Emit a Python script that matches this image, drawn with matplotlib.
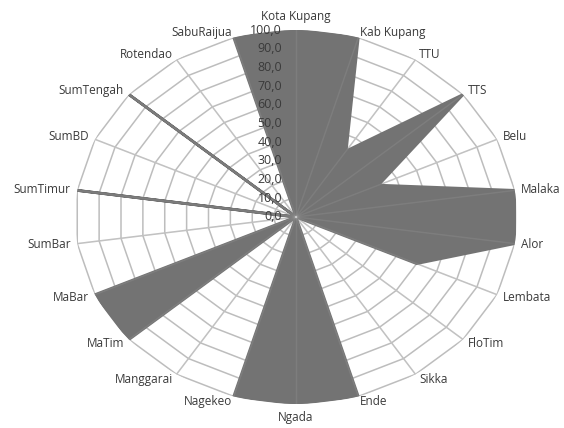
import numpy as np
import matplotlib
matplotlib.use('Agg')
import matplotlib.pyplot as plt

# regions, clockwise from the top
kabupaten = ['Kota Kupang', 'Kab Kupang', 'TTU', 'TTS', 'Belu', 'Malaka', 'Alor',
             'Lembata', 'FloTim', 'Sikka', 'Ende', 'Ngada', 'Nagekeo', 'Manggarai',
             'MaTim', 'MaBar', 'SumBar', 'SumTimur', 'SumBD', 'SumTengah',
             'Rotendao', 'SabuRaijua']
nilai = [100, 100, 42, 100, 41, 100, 100,
         60, 0, 0, 100, 100, 100, 0,
         100, 100, 0, 100, 0, 100,
         0, 100]
ring_levels = [0, 10, 20, 30, 40, 50, 60, 70, 80, 90, 100]
ring_labels = ['%.1f' % v for v in ring_levels]
ring_labels = [s.replace('.', ',') for s in ring_labels]

plt.rcParams['font.family'] = ['Open Sans', 'DejaVu Sans']

n = len(kabupaten)
ang = np.linspace(0, 2 * np.pi, n, endpoint=False)
ang_c = np.append(ang, ang[0])
val_c = np.append(nilai, nilai[0])

fig = plt.figure(figsize=(5.64, 4.28), dpi=100)
ax = fig.add_axes([75 / 564, 24 / 428, 442 / 564, 374 / 428], projection='polar')
ax.set_theta_zero_location('N')
ax.set_theta_direction(-1)
ax.set_ylim(0, 100)
ax.set_aspect('auto')
ax.grid(False)
ax.set_xticks([])
ax.set_yticks([])
ax.spines['polar'].set_visible(False)

grid_col = '#bdbdbd'
# polygon rings
for r in ring_levels[1:]:
    ax.plot(ang_c, [r] * (n + 1), color=grid_col, lw=1.1, zorder=1)
# spokes
for a in ang:
    ax.plot([a, a], [0, 100], color=grid_col, lw=1.1, zorder=1)

ax.fill(ang_c, val_c, facecolor='#737373', edgecolor='#737373', lw=2.0, zorder=2)

# spokes faintly visible through the fill
for a in ang:
    ax.plot([a, a], [0, 100], color='white', lw=1.0, alpha=0.08, zorder=3)

# radial value labels
for r, lab in zip(ring_levels, ring_labels):
    ax.annotate(lab, xy=(0, r), xytext=(-10, 0), textcoords='offset points',
                ha='right', va='center', fontsize=9, color='#3a3a3a', zorder=4)

# category labels
for a, name in zip(ang, kabupaten):
    s, c = np.sin(a), np.cos(a)
    if abs(s) < 0.05:
        ha = 'center'
        va = 'bottom' if c > 0 else 'top'
        rr = 104
    else:
        ha = 'left' if s > 0 else 'right'
        va = 'center'
        rr = 103
    ax.text(a, rr, name, ha=ha, va=va, fontsize=8.5, color='#3a3a3a')

fig.savefig('out.png', dpi=100, facecolor='white')
